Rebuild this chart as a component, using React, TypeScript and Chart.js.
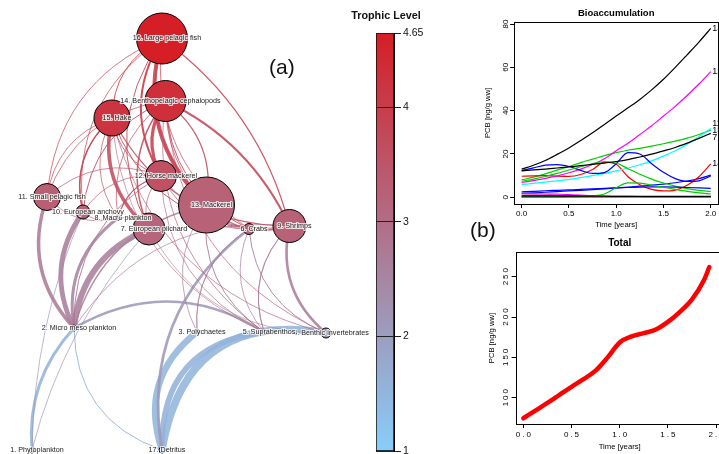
import React, { useEffect, useRef } from "react";
import { Chart, registerables } from "chart.js";

Chart.register(...registerables);

const FONT = "'Liberation Sans', Arial, Helvetica, sans-serif";

/* ---------------- (a) food web data ---------------- */
const NODE_NAMES = [
  "1. Phytoplankton", "2. Micro meso plankton", "3. Polychaetes", "4. Benthic invertebrates",
  "5. Suprabenthos", "6. Crabs", "7. European pilchard", "8. Macro plankton", "9. Shrimps",
  "10. European anchovy", "11. Small pelagic fish", "12. Horse mackerel", "13. Mackerel",
  "14. Benthopelagic cephalopods", "15. Hake", "16. Large pelagic fish", "17. Detritus",
];
const TROPHIC_LEVEL = [1.0, 2.1, 2.0, 2.05, 2.15, 3.2, 3.15, 3.0, 3.25, 3.2, 3.3, 3.6, 3.25, 4.3, 4.2, 4.65, 1.0];
// layout coordinates of the vertices (layout units)
const LAYOUT_X = [32, 74, 197, 326, 264, 249, 149, 118, 289.5, 83, 47, 161, 206.5, 165.5, 112, 162, 162];
const LAYOUT_Y = [450, 328, 332, 333, 332, 229, 229, 218, 226, 212, 197, 176, 205, 101, 118, 38.5, 450];
// vertex size index (biomass)
const BIOMASS_SIZE = [3, 3, 2.5, 5, 2.5, 5.5, 16, 2.5, 16.5, 7, 13.5, 15.5, 28, 20.5, 18, 25.5, 3];

// trophic flows: prey -> predator, with flow size
const FLOW_FROM = [
  1, 17, 1, 1, 17, 17, 17, 17, 2,
  2, 2, 2, 2, 2, 2, 2,
  3, 3, 3, 5, 5, 5, 5, 5, 5, 4, 4, 4, 4, 4,
  8, 8, 8, 8, 8,
  14, 13, 12, 7, 10, 11, 15, 9, 6,
  13, 12, 9, 6, 7, 10, 11, 8, 5,
  13, 7, 10, 11, 8, 12, 9, 6,
  10, 7, 9, 6, 11, 10, 6, 9,
];
const FLOW_TO = [
  2, 2, 7, 10, 3, 5, 4, 6, 5,
  11, 10, 8, 7, 13, 12, 9, 6,
  13, 6, 9, 13, 6, 9, 12, 15, 7, 9, 6, 15, 14, 12,
  11, 10, 7, 12, 13,
  16, 16, 16, 16, 16, 16, 16, 16, 16,
  14, 14, 14, 14, 14, 14, 14, 14, 14,
  15, 15, 15, 15, 15, 15, 15, 15,
  12, 12, 12, 12, 12, 13, 13, 13,
];
const FLOW_SIZE = [
  3.0, 1.0, 0.8, 0.8, 6.5, 5.5, 7.5, 2.8, 2.6,
  3.5, 4.8, 3.0, 6.0, 1.4, 1.0, 0.8, 0.8,
  0.8, 0.8, 0.8, 1.0, 0.8, 0.9, 0.8, 0.7, 0.7, 2.6, 1.0, 0.8, 0.8, 0.8,
  0.8, 0.8, 0.8, 1.2, 1.2,
  4.0, 2.0, 1.0, 0.8, 0.8, 0.9, 1.2, 0.8, 0.8,
  3.2, 2.0, 1.0, 1.5, 1.0, 0.8, 0.8, 0.8, 0.8,
  3.6, 1.5, 0.8, 0.8, 0.8, 1.2, 1.0, 1.0,
  0.8, 1.0, 0.8, 0.8, 0.8, 0.8, 1.5, 1.0,
];
const TL_TICKS = [1, 2, 3, 4, 4.65];

/* ---------------- (b) bioaccumulation data ---------------- */
const TIME = [0, 0.125, 0.25, 0.375, 0.5, 0.625, 0.75, 0.875, 1, 1.125, 1.25, 1.375, 1.5, 1.625, 1.75, 1.875, 2];
const PCB_01 = [0.5, 0.5, 0.5, 0.5, 0.5, 0.45, 0.45, 0.45, 0.4, 0.4, 0.4, 0.4, 0.4, 0.4, 0.4, 0.4, 0.4];
const PCB_02 = [0.9, 0.9, 0.85, 0.8, 0.75, 0.7, 0.6, 0.5, 0.45, 0.4, 0.35, 0.3, 0.3, 0.3, 0.3, 0.3, 0.3];
const PCB_03 = [0.1, 0.1, 0.1, 0.15, 0.2, 0.3, 0.6, 1.5, 4.4, 6.6, 6.5, 5.6, 4.6, 3.6, 2.7, 2.0, 1.5];
const PCB_04 = [2.5, 2.7, 3.0, 3.2, 3.4, 3.6, 3.9, 4.1, 4.3, 4.5, 4.7, 4.8, 4.8, 4.7, 4.5, 4.3, 4.1];
const PCB_05 = [0.25, 0.25, 0.25, 0.25, 0.2, 0.2, 0.2, 0.2, 0.2, 0.2, 0.2, 0.2, 0.2, 0.2, 0.2, 0.2, 0.2];
const PCB_06 = [1.7, 1.6, 1.5, 1.4, 1.2, 1.0, 0.7, 0.4, 0.2, 0.1, 0.05, 0, 0, 0, 0, 0, 0];
const PCB_07 = [12.2, 12.6, 13.0, 13.5, 14.0, 14.6, 15.2, 15.8, 16.5, 17.4, 18.6, 19.9, 21.4, 23.0, 25.0, 27.2, 29.5];
const PCB_08 = [0.1, 0.1, 0.1, 0.1, 0.1, 0.1, 0.1, 0.1, 0.1, 0.1, 0.1, 0.1, 0.1, 0.1, 0.1, 0.1, 0.1];
const PCB_09 = [7.4, 8.4, 9.6, 11.0, 12.6, 14.1, 15.5, 16.4, 15.8, 13.2, 10.6, 8.4, 6.6, 5.1, 4.0, 3.2, 2.7];
const PCB_10 = [12.3, 13.6, 14.8, 15.1, 14.2, 12.4, 11.0, 11.4, 15.5, 20.6, 20.0, 15.5, 11.5, 8.6, 7.3, 7.6, 9.8];
const PCB_11 = [5.8, 6.4, 7.0, 7.6, 8.3, 9.1, 10.0, 11.0, 12.2, 13.5, 15.0, 16.8, 19.0, 21.5, 24.5, 28.0, 31.8];
const PCB_12 = [6.8, 7.7, 8.7, 9.9, 11.3, 13.0, 15.1, 17.8, 21.5, 25.0, 29.0, 33.0, 37.5, 42.0, 47.0, 52.3, 58.0];
const PCB_13 = [13.0, 14.8, 17.0, 19.8, 22.8, 26.2, 29.8, 33.6, 37.5, 41.3, 45.2, 49.6, 54.5, 60.0, 65.8, 71.7, 78.0];
const PCB_14 = [9.7, 9.9, 10.0, 9.7, 9.6, 10.5, 12.8, 16.2, 15.2, 9.5, 5.8, 3.6, 2.9, 3.3, 5.5, 9.5, 15.4];
const PCB_15 = [8.0, 9.3, 10.8, 12.5, 14.2, 16.0, 17.6, 19.2, 20.6, 21.7, 22.6, 23.6, 24.7, 25.9, 27.3, 29.0, 31.0];
const PCB_16 = [1.8, 2.0, 2.3, 2.6, 2.9, 3.2, 3.5, 3.9, 4.3, 4.7, 5.1, 5.6, 6.1, 6.7, 7.5, 8.6, 10.2];
const PCB_17 = [0.05, 0.05, 0.05, 0.05, 0.05, 0.05, 0.05, 0.05, 0.05, 0.05, 0.05, 0.05, 0.05, 0.05, 0.05, 0.05, 0.05];
const PCB_SERIES = [PCB_01, PCB_02, PCB_03, PCB_04, PCB_05, PCB_06, PCB_07, PCB_08, PCB_09, PCB_10, PCB_11, PCB_12, PCB_13, PCB_14, PCB_15, PCB_16, PCB_17];
const LABELLED_SERIES = [13, 12, 11, 15, 7, 14];
const TIME_TICKS = [0, 0.5, 1, 1.5, 2];
const BIO_TICKS = [0, 20, 40, 60, 80];

const TOTAL_TIME = [0, 0.125, 0.25, 0.375, 0.5, 0.625, 0.75, 0.875, 1, 1.125, 1.25, 1.375, 1.5, 1.625, 1.75, 1.875, 1.93];
const TOTAL_PCB = [74.5, 84, 93.5, 103.5, 113.5, 123, 133.5, 150, 168.5, 176, 180, 184.5, 194, 206.5, 222, 246, 262];
const TOTAL_TICKS = [100, 150, 200, 250];

/* ---------------- styles ---------------- */
const LOW_RGB = [135, 206, 250];
const HIGH_RGB = [213, 30, 38];
const TL_MIN = 1;
const TL_MAX = 4.65;
const SERIES_COLORS = ["#000000", "#FF0000", "#00CD00", "#0000FF", "#00FFFF", "#FF00FF"];
const DEFAULT_BEND = 0.3;
const EDGE_BEND: Record<string, number> = {
  "9-16": -0.18, "9-14": -0.18, "17-4": 0.5, "17-5": 0.45, "17-3": 0.35, "1-2": 0.22,
  "1-7": 0.12, "1-10": 0.1, "14-16": 0.12, "13-15": 0.15, "13-14": 0.2, "17-2": 0.35,
};
const LABEL_DX = 5;

function tlColor(tl: number, alpha = 1): string {
  const f = Math.max(0, Math.min(1, (tl - TL_MIN) / (TL_MAX - TL_MIN)));
  const c = LOW_RGB.map((v, k) => Math.round(v + (HIGH_RGB[k] - v) * f));
  return `rgba(${c[0]},${c[1]},${c[2]},${alpha})`;
}

const fixWidth = (w: number) => (s: any) => {
  s.width = w;
  s.paddingTop = 0; s.paddingBottom = 0; s.paddingLeft = 0; s.paddingRight = 0;
};
const fixHeight = (h: number) => (s: any) => {
  s.height = h;
  s.paddingTop = 0; s.paddingBottom = 0; s.paddingLeft = 0; s.paddingRight = 0;
};
const setTicks = (vals: number[]) => (s: any) => {
  s.ticks = vals.map((v) => ({ value: v }));
};

/* ---------------- plugins ---------------- */
const edgesPlugin = {
  id: "foodwebEdges",
  beforeDatasetsDraw(chart: any) {
    const { ctx } = chart;
    const xs = chart.scales.x;
    const ys = chart.scales.y;
    ctx.save();
    FLOW_FROM.forEach((from, k) => {
      const to = FLOW_TO[k];
      const a = from - 1;
      const b = to - 1;
      const x0 = xs.getPixelForValue(LAYOUT_X[a]);
      const y0 = ys.getPixelForValue(LAYOUT_Y[a]);
      const x1 = xs.getPixelForValue(LAYOUT_X[b]);
      const y1 = ys.getPixelForValue(LAYOUT_Y[b]);
      const bend = EDGE_BEND[`${from}-${to}`] ?? DEFAULT_BEND;
      const cx = (x0 + x1) / 2 + bend * (y1 - y0);
      const cy = (y0 + y1) / 2 - bend * (x1 - x0);
      ctx.beginPath();
      ctx.moveTo(x0, y0);
      ctx.quadraticCurveTo(cx, cy, x1, y1);
      ctx.strokeStyle = tlColor((TROPHIC_LEVEL[a] + TROPHIC_LEVEL[b]) / 2, 0.88);
      ctx.lineWidth = Math.max(0.7, FLOW_SIZE[k]);
      ctx.stroke();
    });
    ctx.restore();
  },
};

const nodeLabelPlugin = {
  id: "nodeLabels",
  afterDatasetsDraw(chart: any) {
    const { ctx } = chart;
    const xs = chart.scales.x;
    const ys = chart.scales.y;
    ctx.save();
    ctx.font = `7.2px ${FONT}`;
    ctx.textAlign = "center";
    ctx.textBaseline = "middle";
    ctx.lineJoin = "round";
    NODE_NAMES.forEach((name, i) => {
      const px = xs.getPixelForValue(LAYOUT_X[i]) + LABEL_DX;
      const py = ys.getPixelForValue(LAYOUT_Y[i]);
      ctx.lineWidth = 2.2;
      ctx.strokeStyle = "rgba(255,255,255,0.8)";
      ctx.strokeText(name, px, py);
      ctx.fillStyle = "#1a1a1a";
      ctx.fillText(name, px, py);
    });
    ctx.restore();
  },
};

const colorbarTitlePlugin = {
  id: "colorbarTitle",
  afterDraw(chart: any) {
    const { ctx, chartArea: ca } = chart;
    ctx.save();
    ctx.font = `bold 10.8px ${FONT}`;
    ctx.fillStyle = "#111";
    ctx.textAlign = "center";
    ctx.textBaseline = "middle";
    ctx.fillText("Trophic Level", (ca.left + ca.right) / 2 + 1, ca.top - 17.3);
    ctx.restore();
  },
};

function rAxisPlugin(o: {
  title: string; titleSize: number; titleGap: number; tickSize: number; spacing: number;
  xGap: number; yGap: number; xTitleGap: number; yTitleGap: number;
  fmtX: (v: number) => string; fmtY: (v: number) => string;
}) {
  return {
    id: "rAxis",
    afterDraw(chart: any) {
      const { ctx, chartArea: ca } = chart;
      const xs = chart.scales.x;
      const ys = chart.scales.y;
      ctx.save();
      ctx.strokeStyle = "#000";
      ctx.lineWidth = 1;
      ctx.strokeRect(Math.round(ca.left) + 0.5, Math.round(ca.top) + 0.5, Math.round(ca.right - ca.left), Math.round(ca.bottom - ca.top));
      ctx.fillStyle = "#000";
      ctx.textAlign = "center";
      ctx.textBaseline = "middle";
      ctx.font = `bold ${o.titleSize}px ${FONT}`;
      ctx.fillText(o.title, (ca.left + ca.right) / 2, ca.top - o.titleGap);
      ctx.font = `${o.tickSize}px ${FONT}`;
      (ctx as any).letterSpacing = `${o.spacing}px`;
      xs.ticks.forEach((t: any) => {
        ctx.fillText(o.fmtX(t.value), xs.getPixelForValue(t.value) + o.spacing / 2, ca.bottom + o.xGap);
      });
      ys.ticks.forEach((t: any) => {
        ctx.save();
        ctx.translate(ca.left - o.yGap, ys.getPixelForValue(t.value) - o.spacing / 2);
        ctx.rotate(-Math.PI / 2);
        ctx.fillText(o.fmtY(t.value), 0, 0);
        ctx.restore();
      });
      (ctx as any).letterSpacing = "0px";
      ctx.font = `7.7px ${FONT}`;
      ctx.fillText("Time [years]", (ca.left + ca.right) / 2, ca.bottom + o.xTitleGap);
      ctx.save();
      ctx.translate(ca.left - o.yTitleGap, (ca.top + ca.bottom) / 2);
      ctx.rotate(-Math.PI / 2);
      ctx.fillText("PCB [ng/g ww]", 0, 0);
      ctx.restore();
      ctx.restore();
    },
  };
}

const seriesLabelPlugin = {
  id: "seriesLabels",
  afterDatasetsDraw(chart: any) {
    const { ctx } = chart;
    const xs = chart.scales.x;
    const ys = chart.scales.y;
    const items = LABELLED_SERIES.map((n) => {
      const vals = PCB_SERIES[n - 1];
      return { n, y: ys.getPixelForValue(vals[vals.length - 1]) };
    }).sort((p, q) => p.y - q.y);
    const gap = 7;
    for (let it = 0; it < 60; it++) {
      for (let i = 1; i < items.length; i++) {
        const d = items[i].y - items[i - 1].y;
        if (d < gap) {
          const s = (gap - d) / 2;
          items[i - 1].y -= s;
          items[i].y += s;
        }
      }
    }
    ctx.save();
    ctx.font = `9px ${FONT}`;
    ctx.fillStyle = "#000";
    ctx.textAlign = "left";
    ctx.textBaseline = "middle";
    const x = xs.getPixelForValue(TIME[TIME.length - 1]) + 1.5;
    items.forEach((it) => ctx.fillText(String(it.n), x, it.y));
    ctx.restore();
  },
};

const tickGrid = { display: true, drawOnChartArea: false, drawTicks: true, tickLength: 4, color: "#000", lineWidth: 1 };
const baseOptions = {
  animation: false as const,
  responsive: false,
  maintainAspectRatio: false,
  devicePixelRatio: 1,
  events: [] as any[],
};

/* ---------------- chart configs ---------------- */
function networkConfig(): any {
  return {
    type: "bubble",
    data: {
      datasets: [
        {
          data: LAYOUT_X.map((x, i) => ({ x, y: LAYOUT_Y[i], r: BIOMASS_SIZE[i] })),
          backgroundColor: TROPHIC_LEVEL.map((tl) => tlColor(tl)),
          borderColor: "#000",
          borderWidth: 1,
          clip: false,
        },
      ],
    },
    options: {
      ...baseOptions,
      layout: { padding: 0, autoPadding: false },
      plugins: { legend: { display: false }, tooltip: { enabled: false } },
      scales: {
        x: { type: "linear", min: 0, max: 370, display: false },
        y: { type: "linear", min: 0, max: 454, reverse: true, display: false },
      },
    },
    plugins: [edgesPlugin, nodeLabelPlugin],
  };
}

function colorbarConfig(): any {
  return {
    type: "bar",
    data: {
      labels: [""],
      datasets: [
        {
          data: [[TL_MIN, TL_MAX]],
          barPercentage: 1,
          categoryPercentage: 1,
          borderColor: "#000",
          borderWidth: 1,
          borderSkipped: false,
          backgroundColor: (c: any) => {
            const ca = c.chart.chartArea;
            if (!ca) return "transparent";
            const g = c.chart.ctx.createLinearGradient(0, ca.bottom, 0, ca.top);
            for (let k = 0; k <= 10; k++) {
              const tl = TL_MIN + ((TL_MAX - TL_MIN) * k) / 10;
              g.addColorStop(k / 10, tlColor(tl));
            }
            return g;
          },
        },
      ],
    },
    options: {
      ...baseOptions,
      layout: { padding: { left: 36, right: 0, top: 33, bottom: 3 }, autoPadding: false },
      plugins: { legend: { display: false }, tooltip: { enabled: false } },
      scales: {
        x: { display: false },
        y: {
          type: "linear",
          position: "right",
          min: TL_MIN,
          max: TL_MAX,
          afterBuildTicks: setTicks(TL_TICKS),
          afterFit: fixWidth(56),
          grid: { display: true, drawOnChartArea: true, drawTicks: true, tickLength: 7, color: "#222", lineWidth: 1, z: 1 },
          border: { display: true, color: "#000", z: 1 },
          ticks: {
            color: "#111",
            padding: 2,
            font: { family: FONT, size: 10.5 },
            callback: (v: number) => String(v),
          },
        },
      },
    },
    plugins: [colorbarTitlePlugin],
  };
}

function bioConfig(): any {
  return {
    type: "line",
    data: {
      datasets: PCB_SERIES.map((vals, i) => ({
        label: String(i + 1),
        data: TIME.map((t, j) => ({ x: t, y: vals[j] })),
        borderColor: SERIES_COLORS[i % SERIES_COLORS.length],
        borderWidth: 1.2,
        pointRadius: 0,
        fill: false,
        cubicInterpolationMode: "monotone",
      })),
    },
    options: {
      ...baseOptions,
      layout: { padding: { left: 0, right: 11.7, top: 21.7, bottom: 0 } },
      plugins: { legend: { display: false }, tooltip: { enabled: false } },
      scales: {
        x: {
          type: "linear", min: -0.08, max: 2.08,
          afterBuildTicks: setTicks(TIME_TICKS), afterFit: fixHeight(28),
          grid: tickGrid, border: { display: false }, ticks: { display: false },
        },
        y: {
          type: "linear", min: -3.12, max: 81.1,
          afterBuildTicks: setTicks(BIO_TICKS), afterFit: fixWidth(74.1),
          grid: tickGrid, border: { display: false }, ticks: { display: false },
        },
      },
    },
    plugins: [
      rAxisPlugin({
        title: "Bioaccumulation", titleSize: 9.5, titleGap: 8, tickSize: 8, spacing: 0,
        xGap: 10, yGap: 8.6, xTitleGap: 21, yTitleGap: 26,
        fmtX: (v) => v.toFixed(1), fmtY: (v) => String(v),
      }),
      seriesLabelPlugin,
    ],
  };
}

function totalConfig(): any {
  return {
    type: "line",
    data: {
      datasets: [
        {
          label: "Total",
          data: TOTAL_TIME.map((t, j) => ({ x: t, y: TOTAL_PCB[j] })),
          borderColor: "#FF0000",
          borderWidth: 4.5,
          borderCapStyle: "round",
          pointRadius: 0,
          fill: false,
          cubicInterpolationMode: "monotone",
        },
      ],
    },
    options: {
      ...baseOptions,
      layout: { padding: { left: 0, right: 16.2, top: 22, bottom: 0 } },
      plugins: { legend: { display: false }, tooltip: { enabled: false } },
      scales: {
        x: {
          type: "linear", min: -0.08, max: 2.08,
          afterBuildTicks: setTicks(TIME_TICKS), afterFit: fixHeight(30),
          grid: tickGrid, border: { display: false }, ticks: { display: false },
        },
        y: {
          type: "linear", min: 67.4, max: 280.6,
          afterBuildTicks: setTicks(TOTAL_TICKS), afterFit: fixWidth(75.6),
          grid: tickGrid, border: { display: false }, ticks: { display: false },
        },
      },
    },
    plugins: [
      rAxisPlugin({
        title: "Total", titleSize: 10, titleGap: 9, tickSize: 8, spacing: 2,
        xGap: 10.3, yGap: 9.6, xTitleGap: 22.7, yTitleGap: 23.6,
        fmtX: (v) => v.toFixed(1), fmtY: (v) => String(v),
      }),
    ],
  };
}

/* ---------------- components ---------------- */
function ChartCanvas({ left, top, width, height, make }: { left: number; top: number; width: number; height: number; make: () => any }) {
  const ref = useRef<HTMLCanvasElement | null>(null);
  useEffect(() => {
    if (!ref.current) return;
    const chart = new Chart(ref.current, make());
    return () => chart.destroy();
  }, []);
  return (
    <canvas
      ref={ref}
      width={width}
      height={height}
      style={{ position: "absolute", left, top, width, height, display: "block" }}
    />
  );
}

export default function App() {
  return (
    <div
      style={{
        position: "absolute", left: 0, top: 0, width: 719, height: 454,
        overflow: "hidden", background: "#fff", fontFamily: FONT,
      }}
    >
      <ChartCanvas left={340} top={0} width={110} height={454} make={colorbarConfig} />
      <ChartCanvas left={0} top={0} width={370} height={454} make={networkConfig} />
      <ChartCanvas left={440} top={0} width={290} height={232} make={bioConfig} />
      <ChartCanvas left={440} top={230} width={300} height={224} make={totalConfig} />
      <div style={{ position: "absolute", left: 269, top: 55, fontSize: 21, lineHeight: "24px", color: "#111" }}>(a)</div>
      <div style={{ position: "absolute", left: 470, top: 218, fontSize: 21, lineHeight: "24px", color: "#111" }}>(b)</div>
    </div>
  );
}
